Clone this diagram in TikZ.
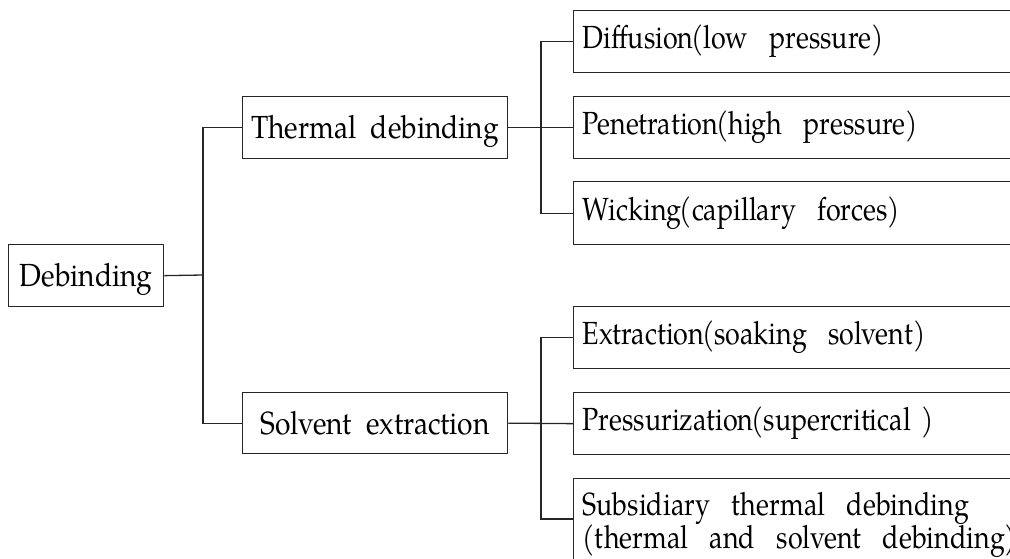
\documentclass[tikz,border=0pt]{standalone}
\usepackage{fontspec}
\setmainfont[FakeStretch=0.88]{TeX Gyre Pagella}
\newfontfamily\leaffont[FakeStretch=0.84, WordSpace=1.1]{TeX Gyre Pagella}
% opening parenthesis set close to the preceding word
\newcommand\lpar{\kern-2pt(}
\begin{document}
\begin{tikzpicture}[x=1pt,y=-1pt,
  every node/.style={font=\fontsize{32}{33}\selectfont},
  box/.style={draw=black!85, line width=1.3pt, rectangle, anchor=north west,
    inner ysep=0pt},
  leftbox/.style={box, inner xsep=0pt, text height=28pt, text depth=6pt},
  leafbox/.style={box, font=\leaffont\fontsize{32}{33}\selectfont,
    inner xsep=9pt, text width=600pt, minimum width=618pt,
    align=left, text height=22pt, text depth=8pt},
  link/.style={draw=black!85, line width=1.3pt}]
\useasboundingbox (0,0) rectangle (1010,559);

% root and the two methods
\node[leftbox, minimum width=155pt, minimum height=62pt] (deb) at (8,244) {Debinding};
\node[leftbox, minimum width=265pt, minimum height=62pt] (thermal) at (242,96) {Thermal~~debinding};
\node[leftbox, minimum width=265pt, minimum height=61pt] (solvent) at (242,392) {Solvent~~extraction};

% thermal debinding mechanisms
\node[leafbox, minimum height=62pt] (diff) at (573,10) {Diffusion\lpar low~~pressure)};
\node[leafbox, minimum height=62pt] (pen) at (573,96) {Penetration\lpar high~~pressure)};
\node[leafbox, minimum height=63pt] (wick) at (573,181) {Wicking\lpar capillary~~forces)};

% solvent extraction mechanisms
\node[leafbox, minimum height=62pt] (extr) at (573,306) {Extraction\lpar soaking~~solvent)};
\node[leafbox, minimum height=62pt] (press) at (573,392) {Pressurization\lpar supercritical~)};
\node[box, font=\leaffont\fontsize{32}{33}\selectfont, inner xsep=9pt, inner ysep=14pt,
  text width=600pt, align=left] (sub) at (573,478)
  {Subsidiary~~thermal~~debinding\\(thermal~~and~~solvent~~debinding)};

% junction points of the tree
\coordinate (j1) at (203,275);
\coordinate (j2) at (541,127);
\coordinate (j3) at (541,423);

\draw[link] (deb.east) -- (j1);
\draw[link] (thermal.west) -| (j1);
\draw[link] (solvent.west) -| (j1);

\draw[link] (thermal.east) -- (pen.west);
\draw[link] (diff.west) -| (j2);
\draw[link] (wick.west) -| (j2);

\draw[link] (solvent.east) -- (press.west);
\draw[link] (extr.west) -| (j3);
\draw[link] ([yshift=-41pt]sub.north west) -| (j3);
\end{tikzpicture}
\end{document}
